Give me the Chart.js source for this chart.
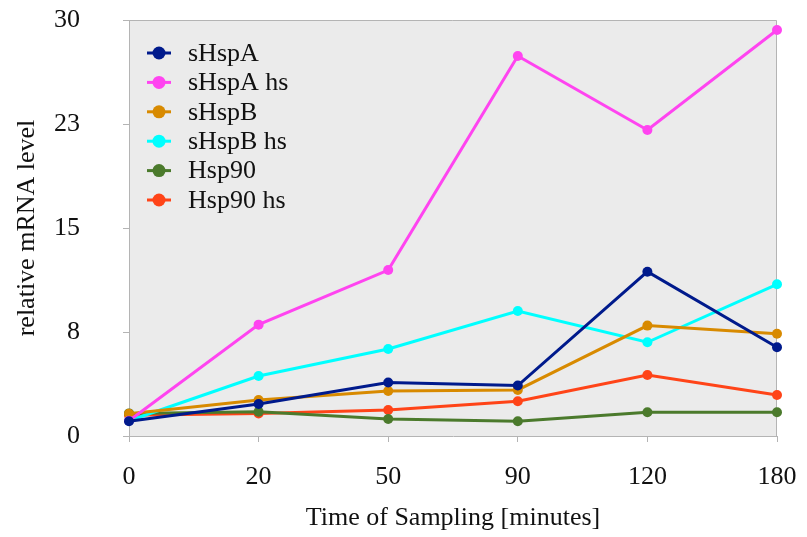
<!DOCTYPE html>
<html>
<head>
<meta charset="utf-8">
<script src="https://cdn.jsdelivr.net/npm/chart.js@4.4.0/dist/chart.umd.min.js"></script>
<style>
    html, body { margin: 0; padding: 0; background: #fff; }
    #wrap { width: 807px; height: 537px; }
</style>
</head>
<body>
<div id="wrap"><canvas id="lineChart" width="807" height="537"></canvas></div>
<script>
// Sampling times (minutes) and relative mRNA levels per gene
const times = ['0', '20', '50', '90', '120', '180'];
const sHspA = [1.06, 2.31, 3.86, 3.64, 11.85, 6.40];
const sHspAhs = [1.1, 8.03, 11.97, 27.4, 22.07, 29.28];
const sHspB = [1.6, 2.6, 3.25, 3.32, 7.96, 7.38];
const sHspBhs = [1.1, 4.33, 6.27, 9.01, 6.76, 10.94];
const hsp90 = [1.63, 1.75, 1.23, 1.06, 1.71, 1.71];
const hsp90hs = [1.5, 1.63, 1.87, 2.50, 4.40, 2.96];
const yTicks = [0, 7.5, 15, 22.5, 30];

const serif = '"Liberation Serif", "Times New Roman", serif';
const axisGray = '#b4b4b4';

const makeSet = (label, data, color) => ({
    label: label,
    data: data,
    borderColor: color,
    backgroundColor: color,
    borderWidth: 3,
    pointRadius: 5,
    pointHoverRadius: 5,
    pointBorderWidth: 0,
    tension: 0
});

// fixed axis sizes, no extra padding for overhanging labels
const fixSize = (w, h) => scale => {
    if (w) scale.width = w;
    if (h) scale.height = h;
    scale.paddingTop = 0;
    scale.paddingBottom = 0;
    scale.paddingLeft = 0;
    scale.paddingRight = 0;
};

// Grey plot background with a frame on the top and right sides
const plotFrame = {
    id: 'plotFrame',
    beforeDraw(chart) {
        const { ctx, chartArea: a } = chart;
        ctx.save();
        ctx.fillStyle = '#ebebeb';
        ctx.fillRect(a.left, a.top, a.right - a.left, a.bottom - a.top);
        ctx.strokeStyle = axisGray;
        ctx.lineWidth = 1;
        ctx.beginPath();
        ctx.moveTo(a.left, a.top + 0.5);
        ctx.lineTo(a.right - 0.5, a.top + 0.5);
        ctx.lineTo(a.right - 0.5, a.bottom);
        ctx.stroke();
        ctx.restore();
    }
};

// Legend inside the plot area, line + dot markers
const innerLegend = {
    id: 'innerLegend',
    afterDatasetsDraw(chart) {
        const ctx = chart.ctx;
        const a = chart.chartArea;
        ctx.save();
        ctx.font = '26px ' + serif;
        ctx.textBaseline = 'middle';
        ctx.textAlign = 'left';
        chart.data.datasets.forEach((ds, i) => {
            const y = a.top + 33 + i * 29.4;
            const x = a.left + 18;
            ctx.strokeStyle = ds.borderColor;
            ctx.lineWidth = 3;
            ctx.beginPath();
            ctx.moveTo(x, y);
            ctx.lineTo(x + 24, y);
            ctx.stroke();
            ctx.fillStyle = ds.borderColor;
            ctx.beginPath();
            ctx.arc(x + 12, y, 6.5, 0, Math.PI * 2);
            ctx.fill();
            ctx.fillStyle = '#111';
            ctx.fillText(ds.label, x + 41, y + 1);
        });
        ctx.restore();
    }
};

const ctx = document.getElementById('lineChart').getContext('2d');
new Chart(ctx, {
    type: 'line',
    data: {
        labels: times,
        datasets: [
            makeSet('sHspA', sHspA, '#001a8c'),
            makeSet('sHspA hs', sHspAhs, '#ff44f0'),
            makeSet('sHspB', sHspB, '#d88a00'),
            makeSet('sHspB hs', sHspBhs, '#00ffff'),
            makeSet('Hsp90', hsp90, '#4b7a2c'),
            makeSet('Hsp90 hs', hsp90hs, '#ff4418')
        ]
    },
    options: {
        responsive: false,
        animation: false,
        layout: { padding: { left: 0, right: 30, top: 20, bottom: 0 } },
        plugins: {
            legend: { display: false },
            tooltip: { enabled: false }
        },
        scales: {
            x: {
                offset: false,
                afterFit: fixSize(0, 101),
                grid: { drawOnChartArea: false, drawTicks: true, tickLength: 6, color: axisGray },
                border: { display: true, color: axisGray, width: 1 },
                ticks: { color: '#111', font: { family: serif, size: 26 }, padding: 20, maxRotation: 0 },
                title: {
                    display: true,
                    text: 'Time of Sampling [minutes]',
                    color: '#111',
                    font: { family: serif, size: 26 },
                    padding: { top: 0, bottom: 3 }
                }
            },
            y: {
                min: 0,
                max: 30,
                afterFit: fixSize(129, 0),
                afterBuildTicks: scale => { scale.ticks = yTicks.map(v => ({ value: v })); },
                grid: { drawOnChartArea: false, drawTicks: true, tickLength: 6, color: axisGray },
                border: { display: true, color: axisGray, width: 1 },
                ticks: {
                    color: '#111',
                    font: { family: serif, size: 26 },
                    padding: 43,
                    callback: value => String(Math.round(value))
                },
                title: {
                    display: true,
                    text: 'relative mRNA level',
                    color: '#111',
                    font: { family: serif, size: 26 },
                    padding: { top: 12, bottom: 0 }
                }
            }
        }
    },
    plugins: [plotFrame, innerLegend]
});
</script>
</body>
</html>
